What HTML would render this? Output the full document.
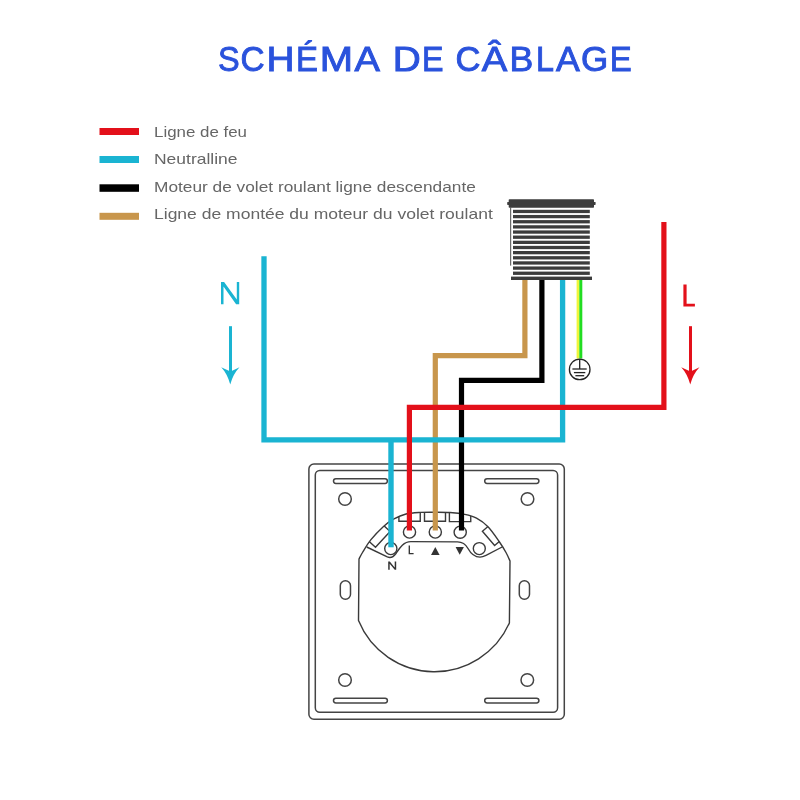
<!DOCTYPE html>
<html><head><meta charset="utf-8">
<style>
html,body{margin:0;padding:0;background:#fff;width:800px;height:800px;overflow:hidden}
svg{display:block}
text{font-family:"Liberation Sans",sans-serif}
</style></head>
<body>
<svg width="800" height="800" viewBox="0 0 800 800">
<defs>
<filter id="nolcd" x="-5%" y="-30%" width="110%" height="160%"><feOffset dx="0" dy="0"/></filter>
<clipPath id="mod"><path d="M359.00 559.00 C359.58 557.92 360.54 555.68 362.50 552.50 C364.46 549.32 367.25 544.25 370.75 539.90 C374.25 535.55 379.62 529.90 383.50 526.40 C387.38 522.90 390.25 520.97 394.00 518.90 C397.75 516.83 401.67 515.08 406.00 514.00 C410.33 512.92 415.17 512.70 420.00 512.40 C424.83 512.10 430.00 512.18 435.00 512.20 C440.00 512.22 445.04 512.13 450.00 512.50 C454.96 512.87 460.33 513.45 464.75 514.40 C469.17 515.35 472.62 516.14 476.50 518.20 C480.38 520.26 484.20 522.83 488.00 526.75 C491.80 530.67 496.30 537.46 499.30 541.75 C502.30 546.04 504.22 549.29 506.00 552.50 C507.78 555.71 509.33 559.58 510.00 561.00 L509.4 623 A82 82 0 0 1 358.5 620.6 Z"/></clipPath>
</defs>
<rect width="800" height="800" fill="#fff"/>
<!-- Title -->
<g fill="#2a52dc" stroke="#2a52dc" stroke-width="0.90" font-size="34.30" filter="url(#nolcd)"><text transform="translate(218.03 70.60) scale(0.9456 1)">S</text><text transform="translate(240.54 70.60) scale(0.9729 1)">C</text><text transform="translate(266.43 70.60) scale(1.1308 1)">H</text><text transform="translate(296.03 70.60) scale(0.9594 1)">É</text><text transform="translate(319.75 70.60) scale(1.1658 1)">M</text><text transform="translate(354.52 70.60) scale(1.1125 1)">A</text><text transform="translate(392.63 70.60) scale(1.1318 1)">D</text><text transform="translate(421.88 70.60) scale(0.9389 1)">E</text><text transform="translate(455.59 70.60) scale(1.0083 1)">C</text><text transform="translate(481.73 70.60) scale(1.1167 1)">Â</text><text transform="translate(509.44 70.60) scale(1.0393 1)">B</text><text transform="translate(536.07 70.60) scale(0.9422 1)">L</text><text transform="translate(555.90 70.60) scale(1.0406 1)">A</text><text transform="translate(581.01 70.60) scale(1.0216 1)">G</text><text transform="translate(609.83 70.60) scale(0.9594 1)">E</text></g>

<!-- Legend -->
<rect x="99.5" y="128" width="39.5" height="7" fill="#e3101a"/>
<rect x="99.5" y="156" width="39.5" height="7" fill="#1ab4d2"/>
<rect x="99.5" y="184.3" width="39.5" height="7.5" fill="#000"/>
<rect x="99.5" y="212.8" width="39.5" height="7" fill="#c8964c"/>
<g font-size="14.4" fill="#666" filter="url(#nolcd)">
<text x="154" y="136.8" textLength="93" lengthAdjust="spacingAndGlyphs">Ligne de feu</text>
<text x="154" y="164.3" textLength="83.5" lengthAdjust="spacingAndGlyphs">Neutralline</text>
<text x="154" y="191.8" textLength="321.8" lengthAdjust="spacingAndGlyphs">Moteur de volet roulant ligne descendante</text>
<text x="154" y="219.3" textLength="338.8" lengthAdjust="spacingAndGlyphs">Ligne de montée du moteur du volet roulant</text>
</g>

<!-- N label + arrow -->
<g fill="#1ab4d2">
<path d="M221 304.2 V282 H224.1 L236.8 299.6 V282 H239.2 V304.2 H236.1 L223.5 286.6 V304.2 Z"/>
<rect x="229" y="326.2" width="3" height="46"/>
<path d="M221.25 367.25 Q226 369.5 230.5 371.5 Q235 369.5 239.5 367.25 Q233 374 230.25 384.5 Q227.5 374 221.25 367.25 Z"/>
</g>
<!-- L label + arrow -->
<g fill="#e3101a">
<path d="M683.4 284.6 H686.6 V303.8 H694.9 V306.5 H683.4 Z"/>
<rect x="689" y="326.2" width="3" height="46"/>
<path d="M681.25 367.25 Q686 369.5 690.5 371.5 Q695 369.5 699.5 367.25 Q693 374 690.25 384.5 Q687.5 374 681.25 367.25 Z"/>
</g>

<!-- Blind motor -->
<g fill="#3c3c3c">
<rect x="508.7" y="199.2" width="85.3" height="8.5" rx="0.8"/><rect x="507.2" y="201.9" width="2" height="3" rx="0.6"/><rect x="593.6" y="201.9" width="2" height="3" rx="0.6"/>
<rect x="513" y="209.80" width="76.8" height="3.3"/><rect x="513" y="214.95" width="76.8" height="3.3"/><rect x="513" y="220.10" width="76.8" height="3.3"/><rect x="513" y="225.25" width="76.8" height="3.3"/><rect x="513" y="230.40" width="76.8" height="3.3"/><rect x="513" y="235.55" width="76.8" height="3.3"/><rect x="513" y="240.70" width="76.8" height="3.3"/><rect x="513" y="245.85" width="76.8" height="3.3"/><rect x="513" y="251.00" width="76.8" height="3.3"/><rect x="513" y="256.15" width="76.8" height="3.3"/><rect x="513" y="261.30" width="76.8" height="3.3"/><rect x="513" y="266.45" width="76.8" height="3.3"/><rect x="513" y="271.60" width="76.8" height="3.3"/>
<rect x="511" y="276.6" width="81" height="3.4"/>
<rect x="510.1" y="207" width="1.1" height="58.6" fill="#5a5a5a"/>
</g>

<!-- Switch plate -->
<g fill="none" stroke="#444" stroke-width="1.5">
<rect x="308.9" y="464" width="255.4" height="255.3" rx="5"/>
<rect x="315.3" y="470.4" width="242.3" height="241.9" rx="4.5"/>
<rect x="333.5" y="478.7" width="53.9" height="4.7" rx="2.35"/>
<rect x="484.7" y="478.7" width="54.2" height="4.7" rx="2.35"/>
<rect x="333.5" y="698.2" width="53.9" height="4.8" rx="2.4"/>
<rect x="484.7" y="698.2" width="54.2" height="4.8" rx="2.4"/>
<circle cx="345" cy="499" r="6.3"/>
<circle cx="527.5" cy="499" r="6.3"/>
<circle cx="345" cy="680" r="6.3"/>
<circle cx="527.3" cy="680" r="6.3"/>
<rect x="340.3" y="580.8" width="10.2" height="18.4" rx="5"/>
<rect x="519.3" y="580.8" width="10.2" height="18.4" rx="5"/>
</g>
<g fill="none" stroke="#3a3a3a" stroke-width="1.4">
<path d="M359.00 559.00 C359.58 557.92 360.54 555.68 362.50 552.50 C364.46 549.32 367.25 544.25 370.75 539.90 C374.25 535.55 379.62 529.90 383.50 526.40 C387.38 522.90 390.25 520.97 394.00 518.90 C397.75 516.83 401.67 515.08 406.00 514.00 C410.33 512.92 415.17 512.70 420.00 512.40 C424.83 512.10 430.00 512.18 435.00 512.20 C440.00 512.22 445.04 512.13 450.00 512.50 C454.96 512.87 460.33 513.45 464.75 514.40 C469.17 515.35 472.62 516.14 476.50 518.20 C480.38 520.26 484.20 522.83 488.00 526.75 C491.80 530.67 496.30 537.46 499.30 541.75 C502.30 546.04 504.22 549.29 506.00 552.50 C507.78 555.71 509.33 559.58 510.00 561.00 L509.4 623 A82 82 0 0 1 358.5 620.6 Z"/>
<path d="M366.7 547 L387.3 556.9 C390.5 558.2 393.5 557 396 553.5 C399 549 403 541.5 411 541.6 L457.5 541.9 C463 542 465.5 544 468 548.5 C471 554 474.5 557.1 480 557.1 C482.5 557.1 484 556.4 486 555.4 L502.1 547"/>
<g clip-path="url(#mod)">
<path d="M398.9 505 V521.2 H420.25 V505"/>
<path d="M424.5 505 V521.3 H445.5 V505"/>
<path d="M449.4 505 V521.6 H470.75 V505"/>
<path d="M375.50 547.30 L390.10 531.50 L381.29 523.36 L366.69 539.16 Z"/>
<path d="M482.40 531.25 L494.60 545.50 L503.72 537.70 L491.52 523.45 Z"/>
</g>
<circle cx="409.5" cy="532" r="6.1"/>
<circle cx="435.3" cy="532" r="6.1"/>
<circle cx="460.2" cy="532.2" r="6.1"/>
<circle cx="390.8" cy="548.5" r="6.1"/>
<circle cx="479.3" cy="548.6" r="6.0"/>
</g>
<!-- terminal labels -->
<g fill="#333">
<path d="M409.3 545.5 V553.6 H413.6" fill="none" stroke="#333" stroke-width="1.35"/>
<path d="M388.2 569.7 V561.5 H389.8 L394.7 567.4 V561.5 H396.2 V569.7 H394.7 L389.7 563.7 V569.7 Z" fill="#333"/>
<path d="M431 555 L435.3 547 L439.6 555 Z"/>
<path d="M455.6 547 L463.9 547 L459.7 554.7 Z"/>
</g>

<!-- Wires -->
<g fill="none" stroke-linecap="butt" stroke-linejoin="miter">
<polyline points="524.9,280 524.9,355.6 435.3,355.6 435.3,530.5" stroke="#c8964c" stroke-width="5.2"/>
<polyline points="541.9,280 541.9,380.4 461.5,380.4 461.5,530.5" stroke="#000" stroke-width="5.2"/>
<polyline points="264,256.2 264,439.8 562.6,439.8 562.6,280" stroke="#1ab4d2" stroke-width="5.3"/>
<line x1="391" y1="439.8" x2="391" y2="547.3" stroke="#1ab4d2" stroke-width="5.4"/>
<polyline points="663.9,222 663.9,407.3 409.4,407.3 409.4,530.5" stroke="#e3101a" stroke-width="5.2"/>
<rect x="576.6" y="280" width="2.8" height="78.5" fill="#eef53a" stroke="none"/>
<rect x="579.3" y="280" width="3" height="78.5" fill="#22dd22" stroke="none"/>
</g>
<!-- ground symbol -->
<g fill="none" stroke="#222" stroke-width="1.3">
<circle cx="579.7" cy="369.4" r="10.3"/>
<line x1="579.7" y1="359" x2="579.7" y2="369"/>
<line x1="572.4" y1="369" x2="586.7" y2="369"/>
<line x1="573.9" y1="372.6" x2="585.3" y2="372.6"/>
<line x1="575.4" y1="375.7" x2="584.2" y2="375.7"/>
</g>
</svg>
</body></html>
